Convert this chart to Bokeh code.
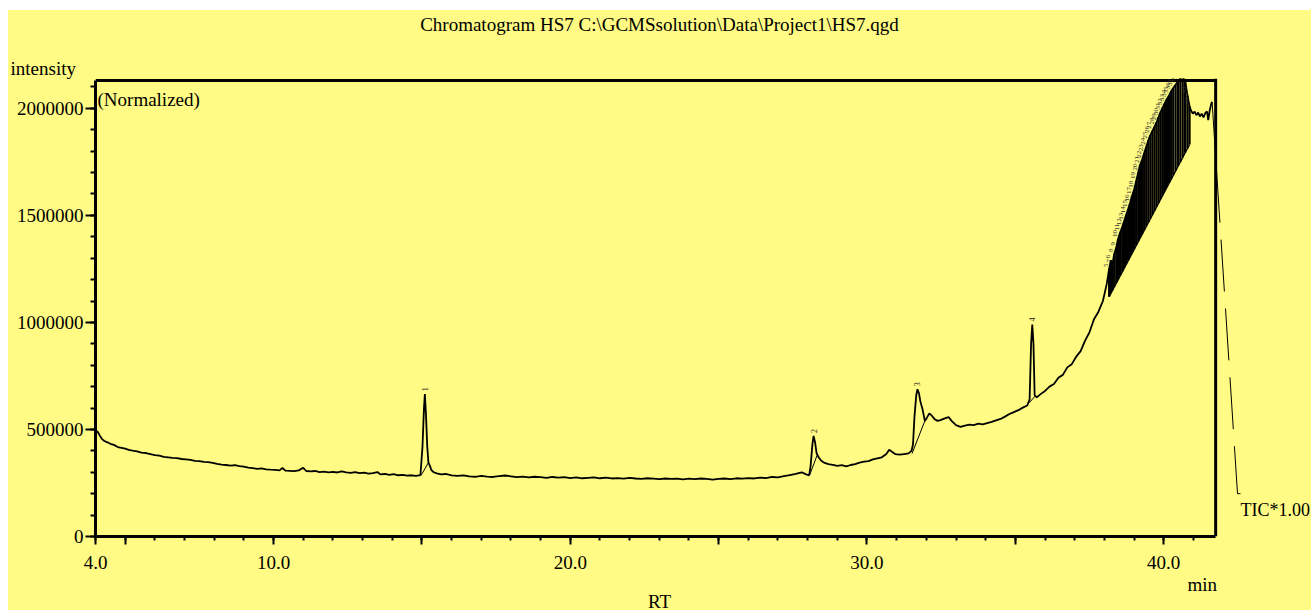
from math import pi
from bokeh.plotting import figure
from bokeh.models import (FixedTicker, PrintfTickFormatter, Span, Label, Range1d, Title, Spacer, Div)
from bokeh.layouts import column, row
from bokeh.core.properties import value
from bokeh.embed import file_html
from bokeh.resources import INLINE

# ---------------- data ----------------
rt_early = [4.00, 4.08, 4.15, 4.22, 4.30, 4.40, 4.50, 4.62, 4.75, 4.88,
            5.00, 5.12, 5.25, 5.40, 5.55, 5.70, 5.85, 6.00, 6.15, 6.30,
            6.45, 6.60, 6.75, 6.90, 7.05, 7.20, 7.35, 7.50, 7.65, 7.80,
            7.95, 8.10, 8.25, 8.40, 8.55, 8.70, 8.85, 9.00, 9.15, 9.30,
            9.45, 9.60, 9.75, 9.90, 10.05, 10.20, 10.30, 10.40, 10.55, 10.70,
            10.85, 11.00, 11.10, 11.25, 11.40, 11.55, 11.70, 11.85, 12.00, 12.15,
            12.30, 12.45, 12.60, 12.75, 12.90, 13.05, 13.20, 13.35, 13.50, 13.60,
            13.75, 13.90, 14.05, 14.20, 14.35, 14.50, 14.65, 14.80, 14.95,
            15.02, 15.07, 15.10, 15.14, 15.18, 15.22, 15.27, 15.32, 15.40, 15.50, 15.65]
int_early = [495000, 488000, 470000, 455000, 446000, 440000, 433000, 428000, 418000, 414000,
             410000, 405000, 401000, 398000, 392000, 390000, 385000, 380000, 378000, 372000,
             370000, 367000, 366000, 362000, 360000, 358000, 353000, 352000, 349000, 347000,
             344000, 339000, 336000, 334000, 331000, 333000, 329000, 326000, 322000, 319000,
             316000, 318000, 314000, 312000, 311000, 309000, 320000, 308000, 307000, 305000,
             309000, 321000, 306000, 304000, 306000, 301000, 303000, 300000, 302000, 299000,
             304000, 300000, 297000, 301000, 296000, 298000, 294000, 296000, 301000, 290000,
             292000, 288000, 291000, 286000, 288000, 284000, 286000, 283000, 287000,
             420000, 600000, 665000, 560000, 420000, 345000, 330000, 310000, 300000, 295000, 290000]

rt_mid = [15.80, 16.00, 16.20, 16.40, 16.60, 16.80, 17.00, 17.20, 17.40, 17.60,
          17.80, 18.00, 18.20, 18.40, 18.60, 18.80, 19.00, 19.20, 19.40, 19.60,
          19.80, 20.00, 20.20, 20.40, 20.60, 20.80, 21.00, 21.20, 21.40, 21.60,
          21.80, 22.00, 22.20, 22.40, 22.60, 22.80, 23.00, 23.20, 23.40, 23.60,
          23.80, 24.00, 24.20, 24.40, 24.60, 24.80, 25.00, 25.20, 25.40, 25.60,
          25.80, 26.00, 26.20, 26.40, 26.60, 26.80, 27.00, 27.20, 27.40, 27.60,
          27.80, 27.95, 28.05, 28.10, 28.16, 28.20, 28.25, 28.30, 28.37, 28.45,
          28.55, 28.70, 28.85, 29.00, 29.15, 29.30, 29.45, 29.60, 29.75, 29.90,
          30.05, 30.20, 30.35, 30.50, 30.65, 30.75, 30.85, 30.95, 31.10, 31.25,
          31.40, 31.50]
int_mid = [292000, 286000, 283000, 286000, 281000, 279000, 283000, 280000, 278000, 282000,
           285000, 281000, 277000, 280000, 276000, 279000, 277000, 274000, 278000, 275000,
           277000, 273000, 276000, 272000, 274000, 276000, 272000, 275000, 271000, 273000,
           270000, 274000, 271000, 269000, 272000, 270000, 268000, 271000, 269000, 270000,
           267000, 270000, 268000, 271000, 269000, 266000, 269000, 271000, 268000, 272000,
           270000, 273000, 271000, 275000, 273000, 278000, 276000, 282000, 287000, 292000,
           300000, 290000, 286000, 330000, 430000, 470000, 440000, 390000, 370000, 355000,
           345000, 338000, 335000, 330000, 333000, 328000, 334000, 338000, 345000, 350000,
           352000, 360000, 365000, 370000, 385000, 405000, 395000, 385000, 382000, 385000,
           388000, 400000]

rt_late = [31.55, 31.60, 31.66, 31.70, 31.75, 31.80, 31.87, 31.95, 32.02, 32.10,
           32.18, 32.28, 32.38, 32.50, 32.62, 32.75, 32.85, 33.00, 33.15, 33.30,
           33.45, 33.60, 33.75, 33.90, 34.05, 34.20, 34.35, 34.50, 34.65, 34.80,
           34.95, 35.10, 35.25, 35.40, 35.48, 35.53, 35.57, 35.61, 35.65, 35.72,
           35.85, 36.00, 36.15, 36.30, 36.45, 36.60, 36.75, 36.90, 37.05, 37.20,
           37.35, 37.50, 37.65, 37.80, 37.95, 38.08]
int_late = [430000, 560000, 660000, 688000, 670000, 630000, 595000, 540000, 555000, 575000,
            565000, 548000, 540000, 545000, 552000, 558000, 540000, 520000, 512000, 518000,
            523000, 520000, 527000, 524000, 530000, 535000, 542000, 549000, 560000, 572000,
            581000, 590000, 602000, 612000, 640000, 900000, 990000, 900000, 660000, 650000,
            665000, 680000, 700000, 712000, 742000, 755000, 790000, 805000, 840000, 866000,
            915000, 955000, 1015000, 1050000, 1100000, 1180000]

# densely integrated peaks on the rising baseline (apex / integration baseline)
dense_rt = [38.16, 38.22, 38.27, 38.33, 38.40, 38.46, 38.53, 38.60, 38.66, 38.73,
            38.80, 38.86, 38.93, 39.00, 39.07, 39.14, 39.20, 39.27, 39.34, 39.41,
            39.48, 39.55, 39.62, 39.69, 39.76, 39.83, 39.90, 39.97, 40.04, 40.11,
            40.18, 40.25, 40.32, 40.40, 40.48, 40.56, 40.64, 40.72, 40.80, 40.87]
dense_top = [1250000, 1290000, 1270000, 1320000, 1350000, 1390000, 1420000, 1445000, 1470000, 1500000,
             1530000, 1555000, 1590000, 1620000, 1660000, 1700000, 1735000, 1760000, 1790000, 1820000,
             1850000, 1875000, 1895000, 1915000, 1935000, 1960000, 1985000, 2005000, 2025000, 2045000,
             2060000, 2080000, 2095000, 2110000, 2125000, 2140000, 2150000, 2130000, 2060000, 2010000]
dense_base = [1120000, 1137000, 1150000, 1166000, 1184000, 1200000, 1218000, 1237000, 1252000, 1271000,
              1289000, 1305000, 1323000, 1341000, 1360000, 1378000, 1394000, 1412000, 1431000, 1449000,
              1467000, 1486000, 1504000, 1522000, 1541000, 1559000, 1577000, 1596000, 1614000, 1632000,
              1651000, 1669000, 1687000, 1708000, 1729000, 1750000, 1771000, 1792000, 1813000, 1831000]

rt_tail = [40.92, 40.98, 41.04, 41.10, 41.16, 41.22, 41.28, 41.34, 41.40, 41.46, 41.50, 41.55, 41.60, 41.63]
int_tail = [1990000, 1975000, 1985000, 1968000, 1980000, 1962000, 1975000, 1958000, 1978000, 1985000,
            1945000, 1990000, 2020000, 2030000]

# labelled peaks 1-4 and their integration baselines
peak_rt = [15.10, 28.20, 31.70, 35.57]
peak_top = [665000, 470000, 688000, 990000]
peak_label = ["1", "2", "3", "4"]
pbase_x0 = [14.97, 28.07, 31.52, 35.47]
pbase_y0 = [285000, 288000, 388000, 625000]
pbase_x1 = [15.22, 28.32, 31.95, 35.66]
pbase_y1 = [345000, 380000, 540000, 655000]

x_ticks = [4, 5, 10, 15, 20, 25, 30, 35, 40]
x_minor = list(range(4, 42))
y_ticks = [0, 500000, 1000000, 1500000, 2000000]
y_minor = [i * 100000 for i in range(22)]

title_text = "Chromatogram HS7 C:\\GCMSsolution\\Data\\Project1\\HS7.qgd"

# ---------------- layout ----------------
YELLOW = "#FFFB84"
FONT = "Liberation Serif"
OX = 8                            # left offset of the yellow area on the page
TOP_Y = 10                        # top of the yellow area on the page
TITLE_H = 34                      # height of the title strip
RT_H = 16                         # height of the strip holding "RT"
OY = TOP_Y + TITLE_H              # canvas top on the page
W = 1303
H = 594 - OY                      # canvas height (page 44 .. 594)
BOX_TOP = 80 - OY                 # box top on the canvas
FL, FT, FB = 87, BOX_TOP - 2, 538 - OY
X0, X_END = 4.0, 44.98
Y_TOP = 2130000                   # top edge of the box
BOX_RIGHT = 41.75
IPP = Y_TOP / (FB - BOX_TOP)
Y_END = Y_TOP + (BOX_TOP - FT) * IPP

p = figure(width=W, height=H, x_range=Range1d(X0, X_END), y_range=Range1d(0, Y_END),
           output_backend="svg", toolbar_location=None,
           min_border_left=FL, min_border_right=0, min_border_top=FT, min_border_bottom=H - FB)
p.background_fill_color = YELLOW
p.border_fill_color = YELLOW
p.outline_line_color = None
p.grid.visible = False

PXM = (W - FL) / (X_END - X0)
def dx(page_x):
    return X0 + (page_x - OX - FL) / PXM
def dy(page_y):
    return (FB - (page_y - OY)) * IPP

xa = p.xaxis[0]
xa.ticker = FixedTicker(ticks=x_ticks, minor_ticks=x_minor)
xa.formatter = PrintfTickFormatter(format="%.1f")
xa.major_label_overrides = {5: "", 15: "", 25: "", 35: ""}
xa.bounds = (X0, BOX_RIGHT)
xa.major_label_standoff = 11
ya = p.yaxis[0]
ya.ticker = FixedTicker(ticks=y_ticks, minor_ticks=y_minor)
ya.formatter = PrintfTickFormatter(format="%d")
ya.major_label_standoff = 2
ya.bounds = (0, Y_TOP)
for ax, mj, mn in ((xa, 8, 4), (ya, 10, 5)):
    ax.axis_line_width = 3
    ax.axis_line_color = "black"
    ax.major_tick_out = mj
    ax.major_tick_in = 0
    ax.minor_tick_out = mn
    ax.minor_tick_in = 0
    ax.major_tick_line_width = 2
    ax.minor_tick_line_width = 2
    ax.major_tick_line_color = "black"
    ax.minor_tick_line_color = "black"
    ax.major_label_text_font = FONT
    ax.major_label_text_font_size = "19px"
    ax.major_label_text_color = "black"

# top and right edges of the box
p.line([X0, BOX_RIGHT], [Y_TOP, Y_TOP], line_color="black", line_width=3)
p.add_layout(Span(location=BOX_RIGHT, dimension="height", line_color="black", line_width=3))

# trace
rt_all = rt_early + rt_mid + rt_late + dense_rt + rt_tail
int_all = int_early + int_mid + int_late + dense_top + int_tail
p.line(rt_all, int_all, line_color="black", line_width=1.8)

# integration marks
p.segment(x0=dense_rt, y0=dense_top, x1=dense_rt, y1=dense_base, line_color="black", line_width=2.2)
p.line([dense_rt[0], dense_rt[-1]], [dense_base[0], dense_base[-1]], line_color="black", line_width=1.5)
p.segment(x0=pbase_x0, y0=pbase_y0, x1=pbase_x1, y1=pbase_y1, line_color="black", line_width=1)

# peak numbers
p.text(x=peak_rt, y=peak_top, text=peak_label, angle=pi / 2, text_align="left",
       text_baseline="middle", y_offset=-3, text_font=value(FONT), text_font_size="8px",
       text_color="#222222")
dense_label = [str(n) for n in range(5, 5 + len(dense_rt))]
p.text(x=dense_rt, y=dense_top, text=dense_label, angle=pi / 2, text_align="left",
       text_baseline="middle", x_offset=-3, y_offset=-2, text_font=value(FONT),
       text_font_size="7px", text_color="#333333")

# TIC legend marker
tic_x, tic_y = dx(1237), dy(495)
p.line([rt_tail[-1], tic_x], [int_tail[-1], tic_y], line_color="black", line_width=1, line_dash="52 17")
p.line([tic_x, dx(1240)], [tic_y, tic_y], line_color="black", line_width=1)

def lab(px, py, text, size="19px"):
    p.add_layout(Label(x=dx(px), y=dy(py), text=text, text_align="left", text_baseline="alphabetic",
                       text_font=FONT, text_font_size=size, text_color="black"))

lab(97, 99, "(Normalized)")
lab(1240, 511, "TIC*1.00", "18px")

# texts just outside the frame, as side-panel titles (left aligned, shifted by offset)
FRAME_LEFT_PAGE = OX + FL
def ttl(text, side, left_px):
    p.add_layout(Title(text=text, align="left", offset=left_px - FRAME_LEFT_PAGE, standoff=0,
                       text_font=FONT, text_font_size="19px", text_font_style="normal",
                       text_color="black"), side)

ttl("intensity", "above", 10)
ttl("min", "below", 1187)

def strip(text, height, line_h):
    html = ('<div style="width:%dpx;height:%dpx;text-align:center;font-family:\'%s\';'
            'font-size:19px;line-height:%dpx;color:black;white-space:nowrap;">%s</div>'
            % (W, height, FONT, line_h, text))
    return Div(text=html, width=W, height=height, margin=(0, 0, 0, 0),
               styles={"background-color": YELLOW, "overflow": "visible"})

title_div = strip(title_text.replace("\\", "&#92;"), TITLE_H, 30)
rt_div = strip("RT", RT_H, 16)

inner = column(title_div, p, rt_div, spacing=0, width=W, height=TITLE_H + H + RT_H,
               styles={"background-color": YELLOW})
layout = column(Spacer(width=OX + W, height=TOP_Y),
                row(Spacer(width=OX, height=H + TITLE_H + RT_H), inner))
open("out.html", "w").write(file_html(layout, INLINE))
